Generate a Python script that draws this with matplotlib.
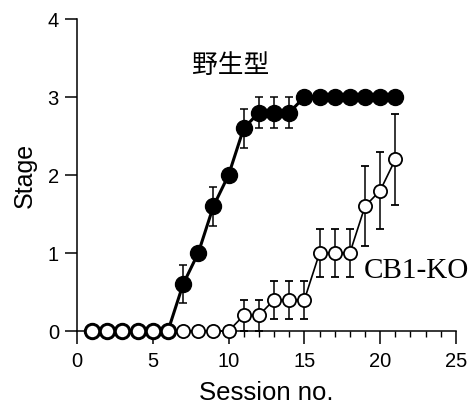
"""Learning curve: stage reached per session, wild type vs CB1-KO."""

import matplotlib

matplotlib.use("Agg")
import matplotlib.pyplot as plt
from matplotlib.ticker import MultipleLocator

sessions = list(range(1, 22))
wt_stage = [0, 0, 0, 0, 0, 0, 0.6, 1.0, 1.6, 2.0, 2.6, 2.8, 2.8, 2.8, 3, 3, 3, 3, 3, 3, 3]
wt_sem = [0, 0, 0, 0, 0, 0, 0.245, 0, 0.25, 0, 0.25, 0.2, 0.2, 0.2, 0, 0, 0, 0, 0, 0, 0]
ko_stage = [0, 0, 0, 0, 0, 0, 0, 0, 0, 0, 0.2, 0.2, 0.4, 0.4, 0.4, 1.0, 1.0, 1.0, 1.6, 1.8, 2.2]
ko_sem = [0, 0, 0, 0, 0, 0, 0, 0, 0, 0, 0.2, 0.2, 0.24, 0.24, 0.24, 0.31, 0.31, 0.31, 0.51, 0.49, 0.58]

wt_label = "野生型"
ko_label = "CB1-KO"


def main() -> None:
    plt.rcParams["font.family"] = ["Liberation Sans", "DejaVu Sans"]
    fig = plt.figure(figsize=(4.68, 4.07), dpi=100)
    ax = fig.add_axes([0.1645, 0.1867, 0.8098, 0.7666])

    ax.errorbar(sessions, wt_stage, yerr=wt_sem, color="black", linewidth=2.2,
                marker="o", markersize=11.5, markerfacecolor="black", markeredgecolor="black",
                elinewidth=1.1, capsize=3, capthick=1.1, clip_on=False, zorder=2)
    ax.errorbar(sessions, ko_stage, yerr=ko_sem, color="black", linewidth=1.2,
                marker="o", markersize=9.5, markerfacecolor="white", markeredgecolor="black",
                markeredgewidth=1.3, elinewidth=1.1, capsize=3, capthick=1.1, clip_on=False, zorder=3)

    ax.text(10.16, 3.40, wt_label, family=["Noto Sans CJK JP", "DejaVu Sans"], fontsize=18.5,
            ha="center", va="center")
    ax.text(18.93, 0.68, ko_label, family=["Liberation Serif", "DejaVu Serif"], fontsize=21,
            ha="left", va="baseline")

    ax.set_xlim(0, 25)
    ax.set_ylim(0, 4)
    ax.xaxis.set_major_locator(MultipleLocator(5))
    ax.xaxis.set_minor_locator(MultipleLocator(1))
    ax.yaxis.set_major_locator(MultipleLocator(1))
    ax.tick_params(axis="both", which="major", direction="out", length=9, width=1.1,
                   labelsize=14.5, pad=4)
    ax.tick_params(axis="x", which="major", pad=6)
    ax.tick_params(axis="x", which="minor", direction="out", length=4.5, width=1.0)
    for side in ["top", "right"]:
        ax.spines[side].set_visible(False)
    for side in ["left", "bottom"]:
        ax.spines[side].set_linewidth(1.1)

    ax.set_xlabel("Session no.", fontsize=18.5, labelpad=7)
    ax.set_ylabel("Stage", fontsize=18, labelpad=8)

    fig.savefig("out.png", dpi=100)
    plt.close(fig)


if __name__ == "__main__":
    main()
